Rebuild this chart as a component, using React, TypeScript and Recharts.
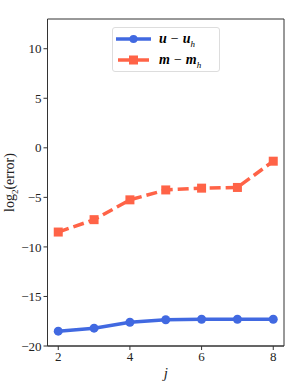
import React from "react";
import {
  LineChart,
  Line,
  XAxis,
  YAxis,
  ReferenceArea,
} from "recharts";

const levels = [2, 3, 4, 5, 6, 7, 8];
const uError = [-18.5, -18.2, -17.6, -17.35, -17.3, -17.3, -17.3];
const mError = [-8.5, -7.25, -5.25, -4.25, -4.07, -4.0, -1.35];
const xTicks = [2, 4, 6, 8];
const yTicks = [-20, -15, -10, -5, 0, 5, 10];

const BLUE = "#4169e1";
const RED = "#ff6347";
const FONT = "'Liberation Serif', 'DejaVu Serif', serif";

const data = levels.map((j, i) => ({ j, u: uError[i], m: mError[i] }));

const SquareDot = (props: any) => {
  const { cx, cy, index } = props;
  if (cx == null || cy == null) return null;
  return <rect key={`sq-${index}`} x={cx - 4.5} y={cy - 4.5} width={9} height={9} fill={RED} />;
};

const YLabel = (props: any) => {
  const vb = props.viewBox || {};
  const cy = (vb.y ?? 19) + (vb.height ?? 327) / 2;
  return (
    <text
      x={14}
      y={cy}
      transform={`rotate(-90 14 ${cy})`}
      textAnchor="middle"
      style={{ fontFamily: FONT, fontSize: 14, fill: "#222" }}
    >
      log<tspan fontSize={9} dy={4}>2</tspan>
      <tspan dy={-4}>(error)</tspan>
    </text>
  );
};

const MathLabel = ({ sym }: { sym: string }) => (
  <span style={{ fontFamily: FONT, fontSize: 14 }}>
    <b><i>{sym}</i></b>
    <span style={{ margin: "0 4px" }}>−</span>
    <b><i>{sym}</i></b>
    <sub style={{ fontSize: 9, fontStyle: "italic" }}>h</sub>
  </span>
);

export default function App() {
  return (
    <div style={{ position: "absolute", left: 0, top: 0, width: 299, height: 389, background: "#fff" }}>
      <LineChart
        width={299}
        height={389}
        data={data}
        margin={{ top: 19, right: 15, left: 0, bottom: 0 }}
      >
        <XAxis
          dataKey="j"
          type="number"
          domain={[1.7, 8.3]}
          ticks={xTicks}
          height={43}
          stroke="#333"
          tickSize={4}
          tick={{ fill: "#222", fontSize: 13, fontFamily: FONT }}
          label={{ value: "j", position: "insideBottom", offset: 11, style: { fontFamily: FONT, fontStyle: "italic", fontSize: 15, fill: "#222" } }}
        />
        <YAxis
          type="number"
          domain={[-20, 13]}
          ticks={yTicks}
          width={47.5}
          stroke="#333"
          tickSize={4}
          tickFormatter={(v: number) => (v < 0 ? `−${-v}` : `${v}`)}
          tick={{ fill: "#222", fontSize: 13, fontFamily: FONT }}
          allowDataOverflow
          label={<YLabel />}
        />
        <ReferenceArea x1={1.7} x2={8.3} y1={-20} y2={13} fill="none" stroke="#333" strokeWidth={1} ifOverflow="visible" />
        <Line
          dataKey="u"
          stroke={BLUE}
          strokeWidth={3.5}
          dot={{ r: 4.5, fill: BLUE, stroke: BLUE, strokeWidth: 0 }}
          isAnimationActive={false}
        />
        <Line
          dataKey="m"
          stroke={RED}
          strokeWidth={3.5}
          strokeDasharray="11 5"
          dot={<SquareDot />}
          isAnimationActive={false}
        />
      </LineChart>
      <div
        style={{
          position: "absolute",
          left: 112,
          top: 27,
          width: 108,
          height: 45,
          border: "1px solid #ddd",
          borderRadius: 3,
          background: "rgba(255,255,255,0.85)",
          boxSizing: "border-box",
        }}
      >
        <svg width={40} height={45} style={{ position: "absolute", left: 2, top: 0 }}>
          <line x1={1} x2={36} y1={11} y2={11} stroke={BLUE} strokeWidth={3.5} />
          <circle cx={18.5} cy={11} r={4} fill={BLUE} />
          <line x1={3} x2={34} y1={32} y2={32} stroke={RED} strokeWidth={3.5} />
          <rect x={14} y={27.5} width={9} height={9} fill={RED} />
        </svg>
        <div style={{ position: "absolute", left: 46, top: 1, lineHeight: "18px" }}>
          <MathLabel sym="u" />
        </div>
        <div style={{ position: "absolute", left: 46, top: 22, lineHeight: "18px" }}>
          <MathLabel sym="m" />
        </div>
      </div>
    </div>
  );
}
